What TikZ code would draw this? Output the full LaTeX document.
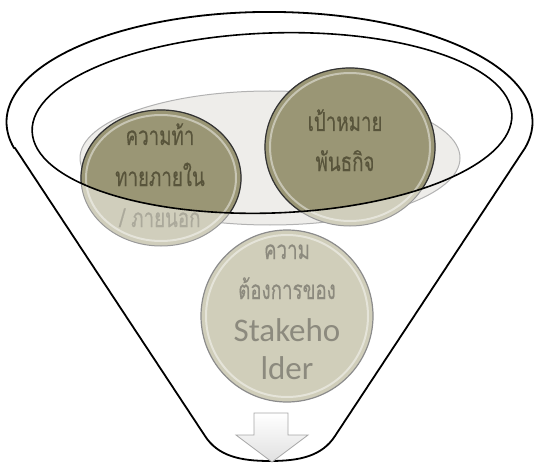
\documentclass[tikz,border=0pt]{standalone}
\usepackage{fontspec}
\newfontfamily\thaifont[Script=Thai, FakeStretch=0.72, FakeBold=0.35]{Loma}
\newfontfamily\latfont{Carlito}
\usepackage{tikz}
\usetikzlibrary{calc}

\definecolor{oliveDark}{HTML}{9A9675}
\definecolor{oliveLight}{HTML}{D0CEBC}
\definecolor{olivePale}{HTML}{D0CEBA}
\definecolor{txtDark}{HTML}{58543B}
\definecolor{txtLight}{HTML}{ABA99B}
\definecolor{txtGrey}{HTML}{8C8A7E}
\definecolor{backFill}{HTML}{EEEDEA}

\begin{document}
\begin{tikzpicture}[
    x=1pt, y=1pt,
    % --- STYLES ---
    funnel/.style={draw=black, line width=1.8pt, line join=round},
    lightball/.style={fill=oliveLight, draw=black!40, line width=1pt},
    darkball/.style={fill=oliveDark, draw=black!80, line width=1.2pt},
    paleball/.style={fill=olivePale, draw=black!45, line width=1.2pt},
    rim/.style={draw=white, opacity=0.45, line width=2pt},
    thai/.style={font=\thaifont\fontsize{26}{28}\selectfont, anchor=base, inner sep=0pt},
    latin/.style={font=\latfont\fontsize{33}{36}\selectfont, anchor=base, inner sep=0pt}
]
\useasboundingbox (0,0) rectangle (537,464);

% ===== 1. BACK ELLIPSE =====
\fill[backFill, draw=black!30, line width=1pt] (270,306) ellipse [x radius=190, y radius=67];

% ===== 2. BALLS (light, outside the rim) =====
\draw[lightball] (161,286) ellipse [x radius=80, y radius=68];
\draw[lightball] (350,317) ellipse [x radius=85, y radius=79];

% ===== 3. BALLS (dark, inside the rim) =====
\begin{scope}
  \clip[rotate around={2:(272,341)}] (272,341) ellipse [x radius=240, y radius=90];
  \draw[darkball] (161,286) ellipse [x radius=80, y radius=68];
  \draw[darkball] (350,317) ellipse [x radius=85, y radius=79];
\end{scope}

\draw[paleball] (287,148) ellipse [x radius=86, y radius=86];

% highlights
\draw[rim] (161,286) ellipse [x radius=75, y radius=63];
\draw[rim] (350,317) ellipse [x radius=80, y radius=74];
\draw[rim] (287,148) ellipse [x radius=81, y radius=81];

% ===== 4. TEXTS =====
\node[thai, text=txtDark] (c1a) at (160,319) {ความท้า};
\node[thai, text=txtDark] (c1b) at (160,278) {ทายภายใน};
\node[thai, text=txtLight] (c1c) at (160,237) {/ ภายนอก};

\node[thai, text=txtDark] (c2a) at (345,333) {เป้าหมาย};
\node[thai, text=txtDark] (c2b) at (345,293) {พันธกิจ};

\node[thai, text=txtGrey] (c3a) at (287,205) {ความ};
\node[thai, text=txtGrey] (c3b) at (287,165) {ต้องการของ};
\node[latin, text=txtGrey] (c3c) at (287,123) {Stakeho};
\node[latin, text=txtGrey] (c3d) at (287,85) {lder};

% ===== 5. RIM & FUNNEL =====
\draw[funnel, line width=1.6pt, rotate around={2:(272,341)}] (272,341) ellipse [x radius=240, y radius=90];

\draw[funnel] (15,316) -- (205,28)
  .. controls (218,8) and (240,3) .. (270,3)
  .. controls (300,3) and (322,8) .. (335,28) -- (525,316)
  arc[start angle=-13.7, end angle=193.7, x radius=263, y radius=110] -- cycle;

% ===== 6. OUTPUT ARROW =====
\draw[draw=black!35, line width=0.8pt, top color=white, bottom color=black!12]
  (254,51) -- (288,51) -- (288,29) -- (308,29) -- (272,2) -- (236,29) -- (254,29) -- cycle;

\end{tikzpicture}
\end{document}
